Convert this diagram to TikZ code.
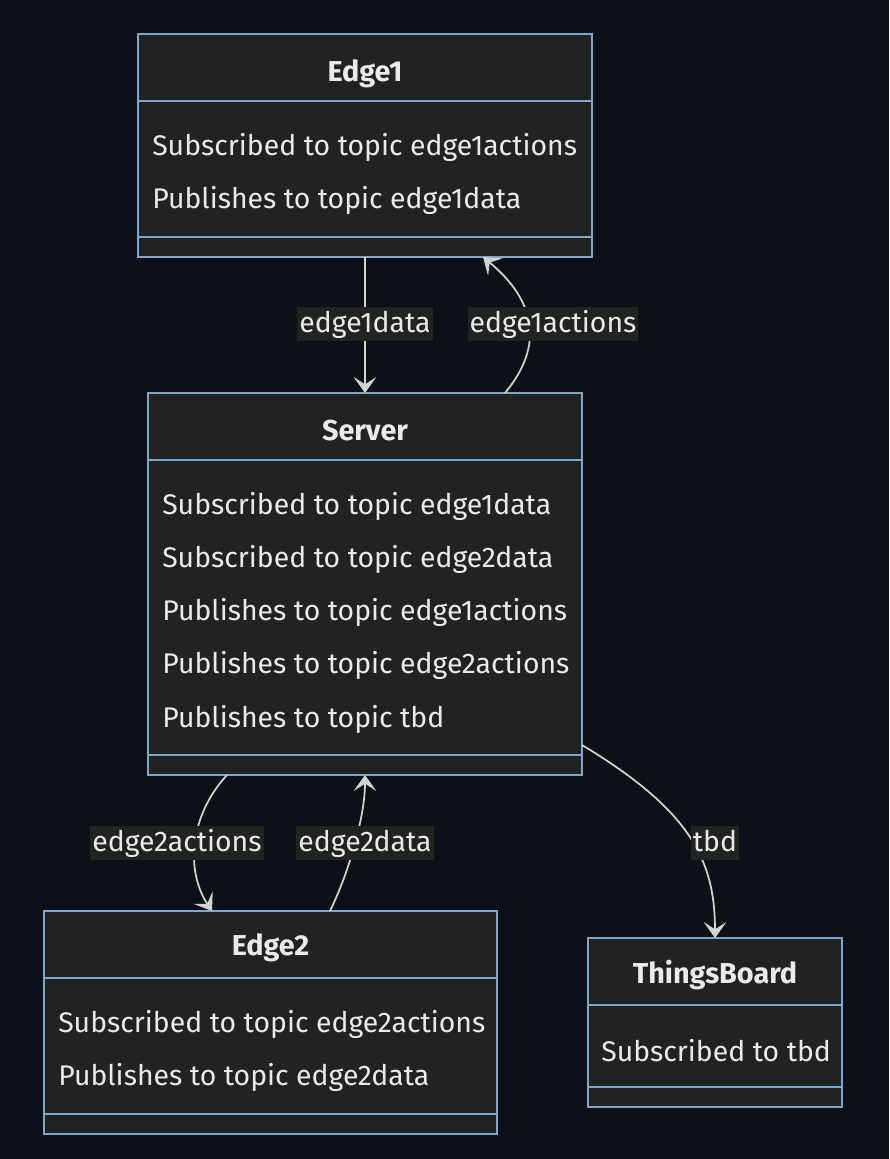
\documentclass[tikz,border=0pt]{standalone}
\usepackage{fontspec}
\setmainfont{Fira Sans}
\usetikzlibrary{arrows.meta}
\definecolor{bgc}{HTML}{0D1017}
\definecolor{boxfill}{HTML}{212222}
\definecolor{boxline}{HTML}{81A6C9}
\definecolor{txt}{HTML}{EAEAEA}
\definecolor{edgecol}{HTML}{D3D3D3}
\begin{document}
\begin{tikzpicture}[x=0.75pt,y=-0.75pt,
  cls/.style={draw=boxline, fill=boxfill, line width=1.1pt, inner sep=0pt, outer sep=0pt, anchor=north west},
  divider/.style={draw=boxline, line width=1.1pt},
  title/.style={text=txt, font=\fontsize{21.6}{24}\selectfont\bfseries, inner sep=0pt, yshift=-1.5pt},
  row/.style={text=txt, font=\fontsize{21.3}{24}\selectfont, anchor=west, inner sep=0pt, yshift=-1.5pt},
  conn/.style={draw=edgecol, line width=1.3pt, -{Stealth[length=12pt, width=17pt, inset=5.5pt]}},
  lbl/.style={fill=boxfill, text=txt, font=\fontsize{21.3}{24}\selectfont, inner xsep=1.5pt, inner ysep=3pt, text height=16.2pt, text depth=2.8pt}
]
\fill[bgc] (0,0) rectangle (889,1159);
\useasboundingbox (0,0) rectangle (889,1159);

% Edge1
\node[cls, minimum width=340.5pt, minimum height=167.25pt] (e1) at (138,34) {};
\draw[divider] (138,101) -- (592,101);
\draw[divider] (138,237) -- (592,237);
\node[title] (e1t) at (365,72) {Edge1};
\node[row] (e1r1) at (152,145) {Subscribed to topic edge1actions};
\node[row] (e1r2) at (152,198) {Publishes to topic edge1data};

% Server
\node[cls, minimum width=325.5pt, minimum height=286.5pt] (srv) at (148,393) {};
\draw[divider] (148,460) -- (582,460);
\draw[divider] (148,755) -- (582,755);
\node[title] (srvt) at (365,429) {Server};
\node[row] (sr1) at (162,504) {Subscribed to topic edge1data};
\node[row] (sr2) at (162,557) {Subscribed to topic edge2data};
\node[row] (sr3) at (162,610) {Publishes to topic edge1actions};
\node[row] (sr4) at (162,663) {Publishes to topic edge2actions};
\node[row] (sr5) at (162,717) {Publishes to topic tbd};

% Edge2
\node[cls, minimum width=339.75pt, minimum height=167.25pt] (e2) at (44,911) {};
\draw[divider] (44,978) -- (497,978);
\draw[divider] (44,1114) -- (497,1114);
\node[title] (e2t) at (270.5,946) {Edge2};
\node[row] (e2r1) at (58,1022) {Subscribed to topic edge2actions};
\node[row] (e2r2) at (58,1075) {Publishes to topic edge2data};

% ThingsBoard
\node[cls, minimum width=190.5pt, minimum height=126.75pt] (tb) at (588,938) {};
\draw[divider] (588,1005) -- (842,1005);
\draw[divider] (588,1087) -- (842,1087);
\node[title] (tbt) at (715,973) {ThingsBoard};
\node[row] (tbr1) at (601,1049) {Subscribed to tbd};

% connectors
\draw[conn] (e1.south) -- (srv.north);
\node[lbl] (l1) at (365,324) {edge1data};

\draw[conn] (srv.north -| 505,0) .. controls (545,345) and (535,300) .. (e1.south -| 483,0);
\node[lbl] (l2) at (553,324) {edge1actions};

\draw[conn] (srv.south -| 227,0) .. controls (190,815) and (185,870) .. (e2.north -| 212,0);
\node[lbl] (l3) at (177,843) {edge2actions};

\draw[conn] (e2.north -| 330,0) .. controls (350,870) and (365,815) .. (srv.south);
\node[lbl] (l4) at (365,843) {edge2data};

\draw[conn] (srv.east |- 0,745) .. controls (690,810) and (715,860) .. (tb.north);
\node[lbl] (l5) at (715,843) {tbd};
\end{tikzpicture}
\end{document}
